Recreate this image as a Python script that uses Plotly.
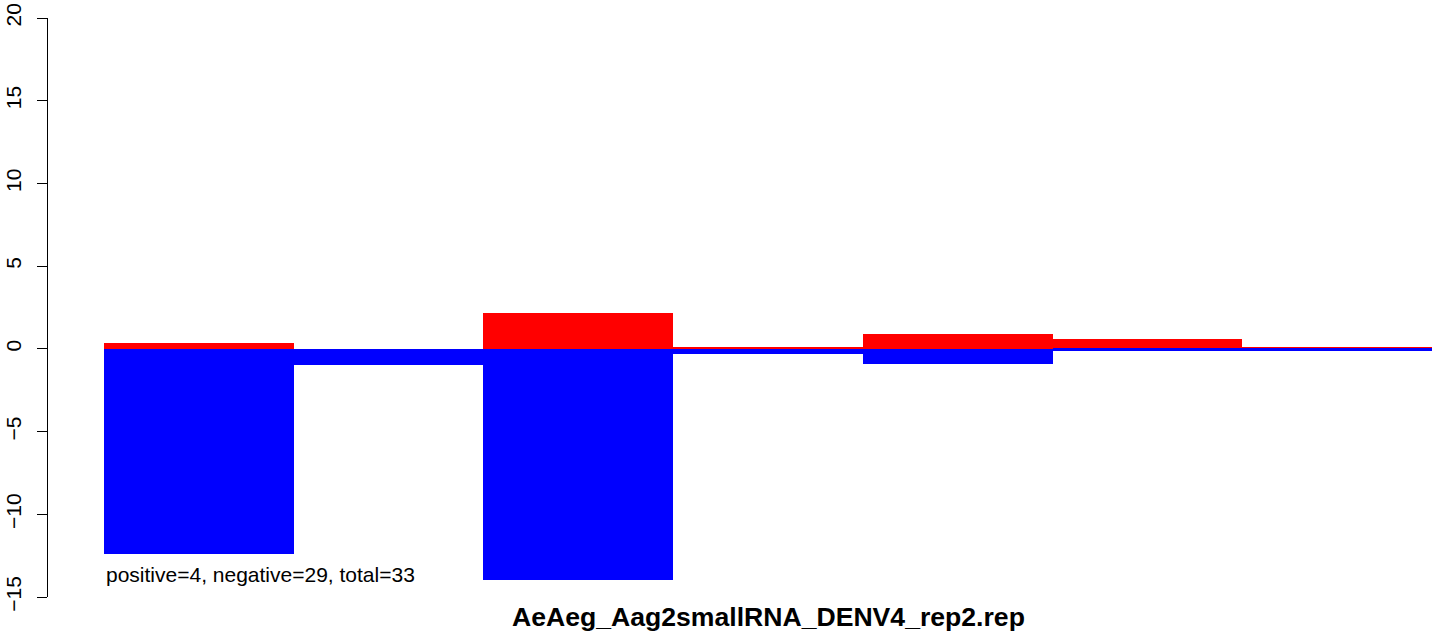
import plotly.graph_objects as go

bins = [1, 2, 3, 4, 5, 6, 7]
positive = [0.36, 0.0, 2.18, 0.06, 0.91, 0.60, 0.12]
negative = [-12.40, -0.97, -14.00, -0.30, -0.91, -0.12, -0.12]
y_ticks = [-15, -10, -5, 0, 5, 10, 15, 20]
title_text = "AeAeg_Aag2smallRNA_DENV4_rep2.rep"
summary_text = "positive=4, negative=29, total=33"

xpos = [b - 0.5 for b in bins]

fig = go.Figure()
fig.add_trace(go.Bar(x=xpos, y=positive, width=1, marker=dict(color="#FF0000", line=dict(width=0)), showlegend=False))
fig.add_trace(go.Bar(x=xpos, y=negative, width=1, marker=dict(color="#0000FF", line=dict(width=0)), showlegend=False))

fig.update_layout(
    width=1452, height=639,
    margin=dict(l=48, r=0, t=18, b=42, autoexpand=False),
    paper_bgcolor="white", plot_bgcolor="white",
    barmode="relative", bargap=0,
    font=dict(family="Liberation Sans, Arial, sans-serif", color="black"),
    xaxis=dict(visible=False, range=[-0.2952, 7.1054], automargin=False),
    yaxis=dict(range=[-15, 20], tickvals=y_ticks, ticktext=[("−" + str(-v)) if v < 0 else str(v) for v in y_ticks],
               showgrid=False, zeroline=False, showline=True, linecolor="black", linewidth=1,
               ticks="outside", ticklen=10, tickcolor="black", tickwidth=1, automargin=False,
               tickangle=-90, tickfont=dict(size=21), ticklabelstandoff=8),
    annotations=[
        dict(text="<b>" + title_text + "</b>", x=3.5, xref="x", y=-0.0345, yref="paper",
             xanchor="center", yanchor="middle", showarrow=False, font=dict(size=26.6)),
        dict(text=summary_text, x=0, xref="x", y=-13.66, yref="y",
             xanchor="left", yanchor="middle", showarrow=False, font=dict(size=21)),
    ],
)

fig.write_html("out.html", config={"displayModeBar": False},
               post_script="document.body.style.margin='0';")
